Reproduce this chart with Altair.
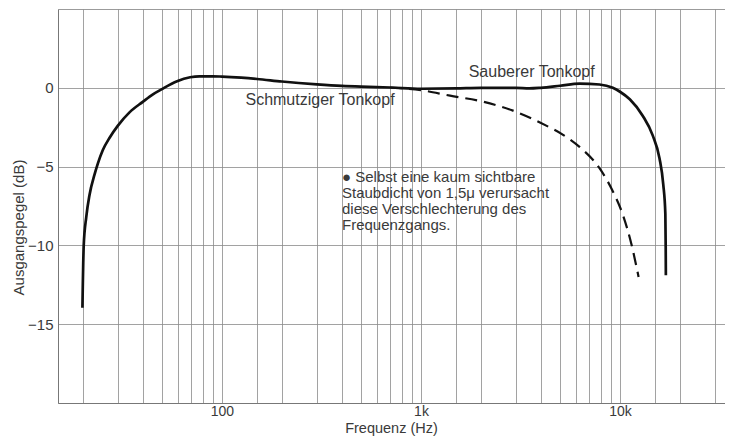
import altair as alt
import pandas as pd

# Clean head (solid) frequency response
clean_freq = [19.9, 20.2, 20.8, 21.6, 22.9, 23.8, 25.2, 27.3, 30, 34.3, 40, 45, 49.6, 59.5, 69.2, 77,
              90, 100, 125, 150, 200, 300, 400, 500, 700, 1000, 1500, 2000, 3000, 3500, 4000, 5000,
              6260, 7890, 9200, 10000, 11200, 13000, 14600, 15800, 16500, 16900, 16970, 17000]
clean_db = [-13.95, -10.0, -8.2, -6.8, -5.5, -4.8, -3.95, -3.15, -2.4, -1.56, -0.89, -0.41, -0.1, 0.42, 0.67, 0.73,
            0.73, 0.71, 0.64, 0.56, 0.4, 0.22, 0.12, 0.07, 0.02, -0.06, -0.04, 0.0, 0.0, -0.04, 0.0, 0.13,
            0.27, 0.21, 0.0, -0.25, -0.73, -1.77, -3.02, -4.48, -6.14, -8.0, -10.1, -11.9]

# Dirty head (dashed) frequency response
dirty_freq = [700, 1000, 1400, 2000, 2900, 4260, 5200, 6260, 7890, 9200, 10300, 11400, 12400]
dirty_db = [0.02, -0.15, -0.5, -0.85, -1.45, -2.4, -3.0, -3.75, -5.1, -6.56, -8.0, -9.9, -12.0]

grid_freqs = [20, 30, 40, 50, 60, 70, 80, 90, 100, 150, 200, 300, 400, 500, 600, 700, 800, 900,
              1000, 1500, 2000, 3000, 4000, 5000, 6000, 7000, 8000, 9000, 10000, 15000, 20000, 30000]
y_ticks = [5, 0, -5, -10, -15, -20]

label_texts = ["Sauberer Tonkopf", "Schmutziger Tonkopf"]
label_freq = [3600, 311]
label_db = [1.0, -0.8]

note_lines = ["● Selbst eine kaum sichtbare", "Staubdicht von 1,5μ verursacht",
              "diese Verschlechterung des", "Frequenzgangs."]
note_freq = [401]
note_db = [-5.2]

FONT = "Liberation Sans"
TXT = "#3a3a3a"
GRID = "#8a8a8a"

clean_df = pd.DataFrame({"f": clean_freq, "db": clean_db})
dirty_df = pd.DataFrame({"f": dirty_freq, "db": dirty_db})
label_df = pd.DataFrame({"f": label_freq, "db": label_db, "t": label_texts})
note_df = pd.DataFrame({"f": note_freq, "db": note_db})

xscale = alt.Scale(type="log", domain=[15, 33700], nice=False)
yscale = alt.Scale(domain=[-20, 5], nice=False, zero=False)

xaxis = alt.Axis(
    values=grid_freqs,
    labelExpr="datum.value == 100 ? '100' : datum.value == 1000 ? '1k' : datum.value == 10000 ? '10k' : ''",
    grid=True, gridColor=GRID, gridWidth=0.8, ticks=False,
    domainColor="#777777", domainWidth=1,
    labelFont=FONT, labelFontSize=14, labelColor=TXT, labelPadding=1, labelOverlap=False,
    title="Frequenz (Hz)", titleFont=FONT, titleFontSize=14.5, titleFontWeight="normal",
    titleColor=TXT, titleX=333, titleY=25, titleBaseline="middle", titleAlign="center",
)
yaxis = alt.Axis(
    values=y_ticks,
    labelExpr="datum.value == 5 || datum.value == -20 ? '' : (datum.value < 0 ? '−' + abs(datum.value) : '' + datum.value)",
    grid=True, gridColor=GRID, gridWidth=0.8, ticks=False,
    domainColor="#777777", domainWidth=1,
    labelFont=FONT, labelFontSize=15, labelColor=TXT, labelPadding=5, labelOverlap=False,
    title="Ausgangspegel (dB)", titleFont=FONT, titleFontSize=15, titleFontWeight="normal",
    titleColor=TXT, titleX=-40, titleY=218, titleAngle=-90, titleBaseline="middle", titleAlign="center",
)

clean = alt.Chart(clean_df).mark_line(color="#111111", strokeWidth=2.7, interpolate="monotone").encode(
    x=alt.X("f:Q", scale=xscale, axis=xaxis),
    y=alt.Y("db:Q", scale=yscale, axis=yaxis),
    order="f:Q",
)
dirty = alt.Chart(dirty_df).mark_line(color="#111111", strokeWidth=2.2, strokeDash=[12, 7],
                                      interpolate="monotone").encode(
    x=alt.X("f:Q", scale=xscale),
    y=alt.Y("db:Q", scale=yscale),
    order="f:Q",
)
labels = alt.Chart(label_df).mark_text(font=FONT, fontSize=16, color=TXT, align="center",
                                       baseline="middle").encode(
    x=alt.X("f:Q", scale=xscale), y=alt.Y("db:Q", scale=yscale), text="t:N")
notes = alt.Chart(note_df).mark_text(font=FONT, fontSize=15, lineHeight=16, color=TXT, align="left",
                                     baseline="top").encode(
    x=alt.X("f:Q", scale=xscale), y=alt.Y("db:Q", scale=yscale), text=alt.value(note_lines))

chart = alt.layer(clean, dirty, labels, notes).properties(
    width=667, height=394,
    autosize=alt.AutoSizeParams(type="none"),
    padding={"left": 50, "top": 1, "right": 0, "bottom": 33},
).configure_view(stroke=None).configure(background="white")

chart.save("out.html", embed_options={"renderer": "svg", "actions": False})
